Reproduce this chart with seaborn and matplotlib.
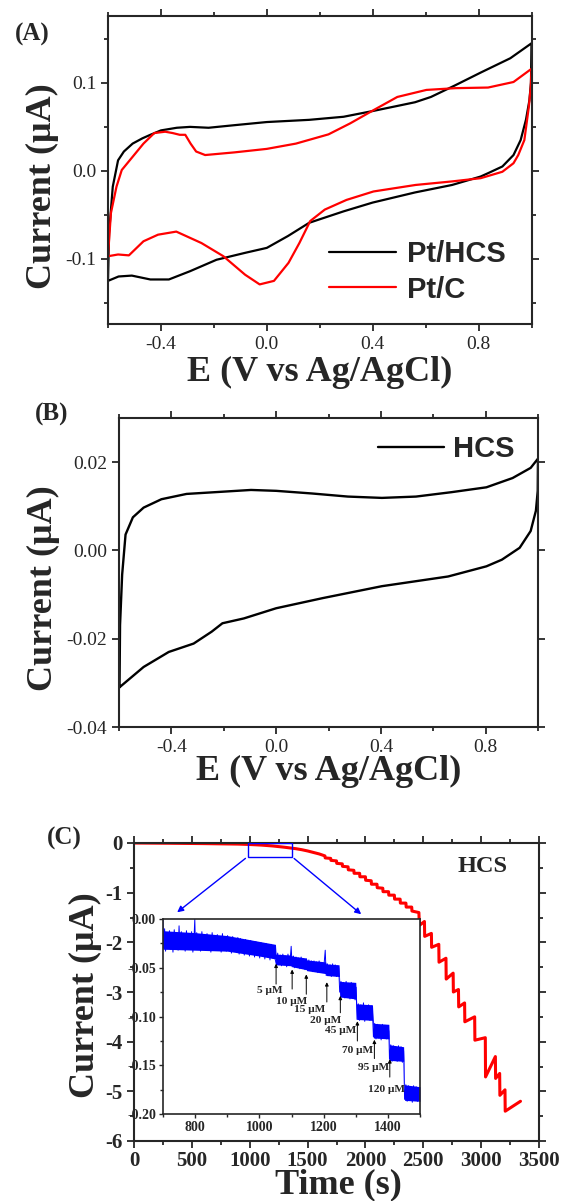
import numpy as np
import pandas as pd
import matplotlib
matplotlib.use('Agg')
import matplotlib.pyplot as plt
import seaborn as sns
from matplotlib.patches import Rectangle
from matplotlib.lines import Line2D
from matplotlib.ticker import MultipleLocator, FormatStrFormatter

# ---- panel A: CV of Pt/HCS and Pt/C (closed loops, anodic then cathodic) ----
hcs_e = [-0.600, -0.596, -0.582, -0.562, -0.540, -0.507, -0.470, -0.440, -0.400, -0.340, -0.290,
         -0.220, -0.120, 0.000, 0.160, 0.290, 0.400, 0.490, 0.560, 0.620, 0.710, 0.810, 0.920, 1.000,
         0.998, 0.992, 0.979, 0.959, 0.932, 0.890, 0.836, 0.808, 0.700, 0.560, 0.400, 0.290,
         0.160, 0.080, 0.000, -0.080, -0.190, -0.290, -0.370, -0.440, -0.510, -0.560, -0.600]
hcs_i = [-0.125, -0.071, -0.018, 0.012, 0.022, 0.031, 0.037, 0.041, 0.046, 0.049, 0.050,
         0.049, 0.052, 0.0555, 0.058, 0.0615, 0.068, 0.0736, 0.078, 0.084, 0.097, 0.112, 0.128, 0.145,
         0.100, 0.080, 0.058, 0.035, 0.018, 0.005, -0.0026, -0.0064, -0.016, -0.0245, -0.036, -0.046,
         -0.059, -0.074, -0.0875, -0.093, -0.101, -0.114, -0.1234, -0.1234, -0.119, -0.120, -0.125]

ptc_e = [-0.600, -0.589, -0.568, -0.548, -0.507, -0.466, -0.425, -0.384, -0.356, -0.329, -0.308,
         -0.288, -0.267, -0.233, -0.123, 0.000, 0.110, 0.233, 0.315, 0.403, 0.493, 0.603, 0.712,
         0.836, 0.932, 1.000,
         0.997, 0.990, 0.973, 0.950, 0.932, 0.890, 0.808, 0.699, 0.562, 0.403, 0.301, 0.219,
         0.164, 0.123, 0.082, 0.027, -0.027, -0.082, -0.164, -0.247, -0.342, -0.411, -0.466,
         -0.521, -0.562, -0.600]
ptc_i = [-0.097, -0.048, -0.018, 0.001, 0.016, 0.031, 0.043, 0.0445, 0.043, 0.041, 0.041,
         0.031, 0.022, 0.018, 0.021, 0.025, 0.031, 0.0415, 0.054, 0.069, 0.084, 0.092, 0.094,
         0.0947, 0.101, 0.116,
         0.095, 0.073, 0.035, 0.018, 0.0087, -0.001, -0.0083, -0.012, -0.016, -0.0234, -0.033, -0.044,
         -0.057, -0.082, -0.1045, -0.125, -0.129, -0.118, -0.097, -0.082, -0.069, -0.0725, -0.080,
         -0.096, -0.095, -0.097]

# ---- panel B: CV of bare HCS ----
b_e = [-0.598, -0.596, -0.588, -0.575, -0.547, -0.506, -0.438, -0.342, -0.205, -0.096, 0.000,
       0.137, 0.274, 0.404, 0.534, 0.670, 0.803, 0.903, 0.972, 1.000,
       0.999, 0.992, 0.972, 0.930, 0.862, 0.803, 0.657, 0.404, 0.178, 0.000, -0.123, -0.205,
       -0.246, -0.315, -0.410, -0.506, -0.598]
b_i = [-0.031, -0.0169, -0.0055, 0.0036, 0.0075, 0.0097, 0.0116, 0.0128, 0.0133, 0.0137, 0.0135,
       0.0129, 0.0122, 0.0119, 0.0122, 0.0132, 0.0143, 0.0164, 0.0187, 0.0208,
       0.0135, 0.0090, 0.0044, 0.0006, -0.0021, -0.0036, -0.0059, -0.0081, -0.0108, -0.0131, -0.0154, -0.0165,
       -0.0184, -0.0211, -0.0230, -0.0264, -0.0310]

# ---- panel C: amperometric i-t of HCS ----
c_t = [0, 300, 600, 900, 1000, 1100, 1200, 1300, 1400, 1450, 1500, 1550, 1600,
       1650, 1652, 1700, 1702, 1750, 1752, 1800, 1802, 1850, 1852, 1900, 1902, 1950, 1952,
       2000, 2002, 2050, 2052, 2100, 2102, 2150, 2152, 2200, 2202, 2250, 2252, 2300, 2302,
       2350, 2352, 2400, 2402, 2462,
       2466, 2510, 2512, 2570, 2572, 2634, 2636, 2696, 2698, 2758, 2760, 2804, 2806, 2857,
       2859, 2944, 2946, 3036, 3038, 3123, 3125, 3160, 3162, 3206, 3208, 3340]
c_i = [0.0, -0.005, -0.012, -0.022, -0.030, -0.042, -0.060, -0.085, -0.115, -0.135, -0.160, -0.190, -0.220,
       -0.26, -0.30, -0.31, -0.35, -0.36, -0.41, -0.42, -0.47, -0.48, -0.54, -0.55, -0.61, -0.61, -0.68,
       -0.68, -0.75, -0.76, -0.83, -0.83, -0.90, -0.91, -0.98, -0.98, -1.05, -1.05, -1.13, -1.13, -1.21,
       -1.21, -1.29, -1.29, -1.37, -1.40,
       -1.66, -1.58, -1.88, -1.82, -2.10, -2.04, -2.40, -2.32, -2.74, -2.62, -3.00, -2.95, -3.30, -3.22,
       -3.60, -3.50, -3.97, -3.92, -4.71, -4.30, -4.74, -4.64, -5.08, -4.97, -5.40, -5.20]

# inset: zoomed part of the same record (noisy trace)
ins_t = [700, 702, 705, 708, 712, 716, 720, 724, 727, 731, 735, 739, 743, 747, 750, 753, 757, 761,
         765, 769, 773, 777, 781, 785, 789, 793, 797, 799, 801, 805, 809, 813, 817, 821, 825, 829,
         833, 837, 841, 845, 849, 853, 857, 861, 865, 869, 873, 877, 881, 885, 889, 893, 897, 901,
         905, 909, 913, 917, 921, 925, 929, 933, 937, 941, 945, 949, 953, 957, 961, 965, 969, 973,
         977, 981, 985, 989, 993, 997, 1001, 1005, 1009, 1013, 1017, 1021, 1025, 1029, 1033, 1037,
         1041, 1045, 1049,
         1053, 1057, 1061, 1065, 1069, 1073, 1077, 1081, 1085, 1089, 1093, 1097, 1099, 1102, 1106,
         1110, 1114, 1118, 1122, 1126, 1130, 1134, 1138, 1142, 1146, 1150, 1154, 1158, 1162, 1166,
         1170, 1174, 1178, 1182, 1186, 1190, 1194, 1198, 1202, 1205, 1208, 1212, 1216, 1220, 1224,
         1228, 1232, 1236, 1240, 1244, 1247,
         1250, 1254, 1258, 1262, 1266, 1270, 1274, 1278, 1282, 1286, 1290, 1294, 1298, 1301,
         1304, 1308, 1312, 1316, 1320, 1324, 1328, 1332, 1336, 1340, 1344, 1348, 1352,
         1355, 1359, 1363, 1367, 1371, 1375, 1379, 1383, 1387, 1391, 1395, 1399, 1403,
         1405, 1409, 1413, 1417, 1421, 1425, 1429, 1433, 1437, 1441, 1445, 1449,
         1452, 1456, 1460, 1464, 1468, 1472, 1476, 1480, 1484, 1488, 1492, 1496, 1500]
ins_i = [-0.001, -0.030, -0.010, -0.033, -0.014, -0.028, -0.012, -0.031, -0.016, -0.034, -0.011, -0.027,
         -0.015, -0.032, -0.007, -0.029, -0.013, -0.030,
         -0.017, -0.033, -0.012, -0.028, -0.015, -0.031, -0.013, -0.034, -0.016, 0.000, -0.029, -0.014,
         -0.031, -0.018, -0.033, -0.013, -0.029, -0.016,
         -0.032, -0.015, -0.030, -0.017, -0.034, -0.014, -0.031, -0.018, -0.032, -0.016, -0.030, -0.019,
         -0.034, -0.015, -0.031, -0.018, -0.033, -0.017,
         -0.032, -0.019, -0.035, -0.018, -0.033, -0.020, -0.034, -0.019, -0.036, -0.020, -0.034, -0.022,
         -0.037, -0.021, -0.035, -0.023, -0.038, -0.022,
         -0.036, -0.024, -0.039, -0.023, -0.037, -0.025, -0.040, -0.024, -0.038, -0.026, -0.041, -0.025,
         -0.039, -0.027, -0.042, -0.026,
         -0.040, -0.028, -0.041,
         -0.047, -0.035, -0.046, -0.037, -0.048, -0.036, -0.047, -0.038, -0.049, -0.036, -0.047,
         -0.037, -0.028, -0.049, -0.038,
         -0.050, -0.039, -0.049, -0.040, -0.051, -0.039, -0.050, -0.041, -0.052, -0.041, -0.053,
         -0.042, -0.052, -0.043, -0.054,
         -0.043, -0.053, -0.044, -0.055, -0.043, -0.054, -0.045, -0.055, -0.044, -0.032, -0.058,
         -0.046, -0.057, -0.047, -0.059,
         -0.046, -0.058, -0.047, -0.059, -0.048, -0.050,
         -0.075, -0.064, -0.079, -0.065, -0.081, -0.064, -0.080, -0.066, -0.082, -0.065, -0.081,
         -0.066, -0.083, -0.070,
         -0.103, -0.087, -0.104, -0.088, -0.102, -0.086, -0.105, -0.089, -0.103, -0.088, -0.104,
         -0.089, -0.095,
         -0.121, -0.107, -0.123, -0.108, -0.122, -0.109, -0.124, -0.108, -0.122, -0.109, -0.123,
         -0.110, -0.115,
         -0.144, -0.129, -0.146, -0.130, -0.145, -0.131, -0.146, -0.130, -0.145, -0.131, -0.147,
         -0.135,
         -0.185, -0.170, -0.187, -0.171, -0.186, -0.172, -0.188, -0.171, -0.186, -0.172, -0.187,
         -0.173, -0.183]

# envelope of the noise band (inset)
env_t = [700, 800, 900, 1000, 1050, 1052, 1100, 1102, 1146, 1148, 1206, 1208, 1248, 1250,
         1300, 1303, 1352, 1355, 1403, 1405, 1449, 1452, 1500]
env_hi = [-0.012, -0.014, -0.017, -0.023, -0.026, -0.036, -0.037, -0.038, -0.040, -0.042, -0.044,
          -0.046, -0.047, -0.064, -0.065, -0.087, -0.088, -0.107, -0.108, -0.129, -0.131, -0.170, -0.172]
env_lo = [-0.031, -0.032, -0.033, -0.038, -0.041, -0.047, -0.048, -0.049, -0.052, -0.053, -0.056,
          -0.058, -0.059, -0.080, -0.082, -0.103, -0.104, -0.122, -0.123, -0.145, -0.146, -0.186, -0.187]

conc_labels = ['5 μM', '10 μM', '15 μM', '20 μM', '45 μM', '70 μM', '95 μM', '120 μM']
arrow_t = [1052, 1102, 1146, 1210, 1252, 1305, 1358, 1406]
arrow_tail = [-0.0696, -0.0747, -0.080, -0.088, -0.099, -0.128, -0.146, -0.165]
arrow_head = [-0.043, -0.049, -0.054, -0.062, -0.076, -0.102, -0.121, -0.141]
label_t = [1031, 1099, 1157, 1206, 1252, 1307, 1354, 1395]
label_i = [-0.0737, -0.0843, -0.093, -0.104, -0.114, -0.135, -0.152, -0.175]

# zoom box on main i-t curve
zoom_t0, zoom_t1, zoom_i = 982, 1365, -0.275

sns.set_style('ticks')
plt.rcParams['font.family'] = ['Liberation Serif', 'DejaVu Serif']
plt.rcParams['axes.unicode_minus'] = False
plt.rcParams['axes.linewidth'] = 1.5

W, H = 562, 1201
fig = plt.figure(figsize=(W / 100, H / 100), dpi=100)


def box(l, t, r, b):
    return [l / W, 1 - b / H, (r - l) / W, (b - t) / H]


def style(ax, size, bold=False, major=5, minor=3):
    ax.tick_params(which='both', direction='out', top=True, right=True, width=1.3, labelsize=size)
    ax.tick_params(which='major', length=major)
    ax.tick_params(which='minor', length=minor)
    for s in ax.spines.values():
        s.set_visible(True)
        s.set_linewidth(1.5)
    if bold:
        plt.setp(ax.get_xticklabels() + ax.get_yticklabels(), fontweight='bold')


# ---------------- (A) ----------------
ax_a = fig.add_axes(box(108, 16, 531.5, 324))
df_a = pd.DataFrame({'E': hcs_e + ptc_e, 'I': hcs_i + ptc_i,
                     'sample': ['Pt/HCS'] * len(hcs_e) + ['Pt/C'] * len(ptc_e)})
sns.lineplot(data=df_a, x='E', y='I', hue='sample', palette={'Pt/HCS': 'black', 'Pt/C': 'red'},
             sort=False, estimator=None, lw=1.6, legend=False, ax=ax_a)
ax_a.set_xlim(-0.6, 1.0)
ax_a.set_ylim(-0.174, 0.176)
ax_a.xaxis.set_major_locator(MultipleLocator(0.4))
ax_a.xaxis.set_minor_locator(MultipleLocator(0.2))
ax_a.yaxis.set_major_locator(MultipleLocator(0.1))
ax_a.yaxis.set_minor_locator(MultipleLocator(0.05))
ax_a.xaxis.set_major_formatter(FormatStrFormatter('%.1f'))
ax_a.yaxis.set_major_formatter(FormatStrFormatter('%.1f'))
ax_a.set_xlabel('')
ax_a.set_ylabel('')
style(ax_a, 14)
handles = [Line2D([], [], color='black', lw=1.6), Line2D([], [], color='red', lw=1.6)]
ax_a.legend(handles, ['Pt/HCS', 'Pt/C'], loc='upper left', bbox_to_anchor=(329 / W, 1 - 240 / H),
            bbox_transform=fig.transFigure, frameon=False, borderpad=0, borderaxespad=0,
            handlelength=2.3, handletextpad=0.36, labelspacing=0.26,
            prop={'family': 'Liberation Sans', 'weight': 'bold', 'size': 21})

# ---------------- (B) ----------------
ax_b = fig.add_axes(box(119, 418, 538, 727))
sns.lineplot(x=b_e, y=b_i, color='black', sort=False, estimator=None, lw=1.7, ax=ax_b)
ax_b.set_xlim(-0.6, 1.0)
ax_b.set_ylim(-0.04, 0.03)
ax_b.xaxis.set_major_locator(MultipleLocator(0.4))
ax_b.xaxis.set_minor_locator(MultipleLocator(0.2))
ax_b.yaxis.set_major_locator(MultipleLocator(0.02))
ax_b.xaxis.set_major_formatter(FormatStrFormatter('%.1f'))
ax_b.yaxis.set_major_formatter(FormatStrFormatter('%.2f'))
style(ax_b, 14)
ax_b.legend([Line2D([], [], color='black', lw=1.7)], ['HCS'], loc='upper left',
            bbox_to_anchor=(378 / W, 1 - 435 / H), bbox_transform=fig.transFigure,
            frameon=False, borderpad=0, borderaxespad=0, handlelength=2.26, handletextpad=0.31,
            prop={'family': 'Liberation Sans', 'weight': 'bold', 'size': 21})

# ---------------- (C) ----------------
ax_c = fig.add_axes(box(134, 843, 539, 1141))
sns.lineplot(x=c_t, y=c_i, color='red', sort=False, estimator=None, lw=2.2, ax=ax_c)
ax_c.set_xlim(0, 3500)
ax_c.set_ylim(-6, 0)
ax_c.xaxis.set_major_locator(MultipleLocator(500))
ax_c.xaxis.set_minor_locator(MultipleLocator(250))
ax_c.yaxis.set_major_locator(MultipleLocator(1))
ax_c.yaxis.set_minor_locator(MultipleLocator(0.5))
ax_c.yaxis.set_major_formatter(FormatStrFormatter('%d'))
style(ax_c, 15, bold=True)
ax_c.tick_params(axis='x', pad=2)
ax_c.text(483 / W, 1 - 867 / H, 'HCS', transform=fig.transFigure, ha='center', va='center',
          fontsize=17.5, fontweight='bold')
ax_c.add_patch(Rectangle((zoom_t0, zoom_i), zoom_t1 - zoom_t0, -zoom_i, fill=False,
                         ec='blue', lw=1.0, zorder=5))
ax_c.annotate('', xy=(354, -1.43), xytext=(zoom_t0, zoom_i),
              arrowprops=dict(arrowstyle='-|>', color='blue', lw=1.0, mutation_scale=9))
ax_c.annotate('', xy=(1982, -1.47), xytext=(zoom_t1, zoom_i),
              arrowprops=dict(arrowstyle='-|>', color='blue', lw=1.0, mutation_scale=9))

# inset
ax_in = fig.add_axes(box(163, 919, 420, 1114))
ax_in.fill_between(env_t, env_lo, env_hi, color='blue', lw=0)
sns.lineplot(x=ins_t, y=ins_i, color='blue', sort=False, estimator=None, lw=0.7, ax=ax_in)
ax_in.set_xlim(700, 1500)
ax_in.set_ylim(-0.20, 0.0)
ax_in.xaxis.set_major_locator(MultipleLocator(200))
ax_in.xaxis.set_minor_locator(MultipleLocator(100))
ax_in.yaxis.set_major_locator(MultipleLocator(0.05))
ax_in.yaxis.set_minor_locator(MultipleLocator(0.025))
ax_in.yaxis.set_major_formatter(FormatStrFormatter('%.2f'))
ax_in.tick_params(which='both', direction='out', width=1.0, labelsize=10, pad=2)
ax_in.tick_params(which='major', length=3)
ax_in.tick_params(which='minor', length=2)
for s in ax_in.spines.values():
    s.set_linewidth(1.2)
plt.setp(ax_in.get_xticklabels() + ax_in.get_yticklabels(), fontweight='bold')
for lab, t, tail, head, lt, li in zip(conc_labels, arrow_t, arrow_tail, arrow_head, label_t, label_i):
    ax_in.annotate('', xy=(t, head), xytext=(t, tail),
                   arrowprops=dict(arrowstyle='-|>', color='black', lw=0.7, mutation_scale=5))
    ax_in.text(lt, li, lab, ha='center', va='center', fontsize=8.2, fontweight='bold')

# axis labels and panel letters
lab_kw = dict(ha='center', va='center', fontsize=26, fontweight='bold')
fig.text(320 / W, 1 - 372 / H, 'E (V vs Ag/AgCl)', **lab_kw)
fig.text(42 / W, 1 - 186 / H, 'Current (μA)', rotation=90, **lab_kw)
fig.text(329 / W, 1 - 771 / H, 'E (V vs Ag/AgCl)', **lab_kw)
fig.text(43 / W, 1 - 588 / H, 'Current (μA)', rotation=90, **lab_kw)
fig.text(338 / W, 1 - 1185 / H, 'Time (s)', **lab_kw)
fig.text(85 / W, 1 - 995 / H, 'Current (μA)', rotation=90, **lab_kw)
for s, x, y in [('(A)', 32, 34), ('(B)', 52, 414), ('(C)', 64, 838)]:
    fig.text(x / W, 1 - y / H, s, ha='center', va='center', fontsize=18, fontweight='bold')

fig.savefig('out.png', dpi=100)
